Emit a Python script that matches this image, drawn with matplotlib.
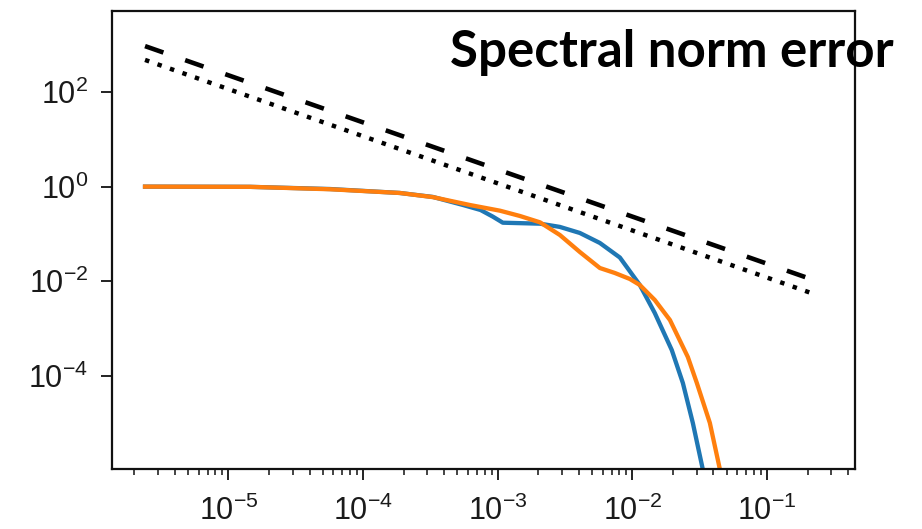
import matplotlib
matplotlib.use("Agg")
import matplotlib.pyplot as plt
from matplotlib import font_manager
from matplotlib.ticker import LogLocator, FixedLocator, NullLocator

_names = {f.name for f in font_manager.fontManager.ttflist}
narrow = 'Liberation Sans Narrow' in _names
tick_font = 'Liberation Sans Narrow' if narrow else 'Liberation Sans'
tick_size = 23 if narrow else 22

plt.rcParams['font.family'] = [tick_font, 'DejaVu Sans']
plt.rcParams['mathtext.fontset'] = 'custom'
plt.rcParams['mathtext.rm'] = tick_font
plt.rcParams['mathtext.it'] = tick_font + ':italic'
plt.rcParams['mathtext.bf'] = tick_font + ':bold'
plt.rcParams['lines.scale_dashes'] = False

# ---- data ----
blue_x = [2.40e-6, 1.45e-5, 5.68e-5, 1.87e-4, 3.30e-4, 5.51e-4, 7.45e-4, 9.20e-4,
          1.09e-3, 2.06e-3, 2.89e-3, 4.07e-3, 5.73e-3, 8.07e-3, 1.135e-2, 1.466e-2,
          1.96e-2, 2.37e-2, 2.81e-2, 3.33e-2, 3.76e-2]
blue_y = [1.0, 0.99, 0.89, 0.735, 0.605, 0.41, 0.321, 0.232,
          0.173, 0.165, 0.141, 0.105, 0.0646, 0.0318, 8.36e-3, 2.14e-3,
          3.54e-4, 7.11e-5, 1.02e-5, 1.08e-6, 1.9e-7]

orange_x = [2.40e-6, 1.45e-5, 5.68e-5, 1.87e-4, 3.30e-4, 6.21e-4, 1.04e-3, 1.46e-3,
            2.06e-3, 2.89e-3, 4.07e-3, 5.73e-3, 7.40e-3, 9.57e-3, 1.135e-2, 1.466e-2,
            1.90e-2, 2.58e-2, 3.01e-2, 3.76e-2, 4.46e-2, 5.0e-2]
orange_y = [1.0, 0.99, 0.88, 0.735, 0.600, 0.409, 0.31, 0.240,
            0.176, 0.0953, 0.0416, 0.0191, 0.0150, 0.0112, 8.36e-3, 4.03e-3,
            1.52e-3, 2.52e-4, 7.11e-5, 1.02e-5, 1.08e-6, 2.4e-7]

ref_x = [2.40e-6, 0.227]
dashed_y = [930.0, 0.0104]
dotted_y = [475.0, 0.0053]

yticks = [1e-4, 1e-2, 1e0, 1e2]
title = "Spectral norm error"

# ---- figure ----
fig = plt.figure(figsize=(9.22, 5.29), dpi=100)
ax = fig.add_axes([0.1215, 0.1134, 0.8058, 0.8658])

ax.plot(ref_x, dashed_y, color='black', lw=3.3, linestyle=(0, (14.0, 16.6)),
        dash_capstyle='butt')
ax.plot(ref_x, dotted_y, color='black', lw=3.2, linestyle=(0, (3.2, 6.3)),
        dash_capstyle='butt')
ax.plot(blue_x, blue_y, color='#1f77b4', lw=3.1)
ax.plot(orange_x, orange_y, color='#ff7f0e', lw=3.1)

ax.set_xscale('log')
ax.set_yscale('log')
ax.set_xlim(10**-5.865, 10**-0.347)
ax.set_ylim(10**-5.965, 10**3.71)

ax.xaxis.set_major_locator(LogLocator(base=10, numticks=20))
ax.xaxis.set_minor_locator(LogLocator(base=10, subs=range(2, 10), numticks=20))
ax.yaxis.set_major_locator(FixedLocator(yticks))
ax.yaxis.set_minor_locator(NullLocator())

for s in ax.spines.values():
    s.set_linewidth(1.6)
    s.set_color('#111111')

ax.tick_params(axis='both', which='major', length=8, width=1.3, labelsize=tick_size,
               color='#111111', labelcolor='#1a1a1a')
ax.tick_params(axis='x', which='major', pad=11)
ax.tick_params(axis='y', which='major', pad=9)
ax.tick_params(axis='x', which='minor', length=4.3, width=1.1, color='#111111')

fig.text(450 / 922, 1 - 67 / 529, title, fontsize=36.7, fontweight='bold',
         family=['Lato', 'DejaVu Sans'], ha='left', va='baseline', zorder=10)

fig.savefig('out.png', dpi=100)
